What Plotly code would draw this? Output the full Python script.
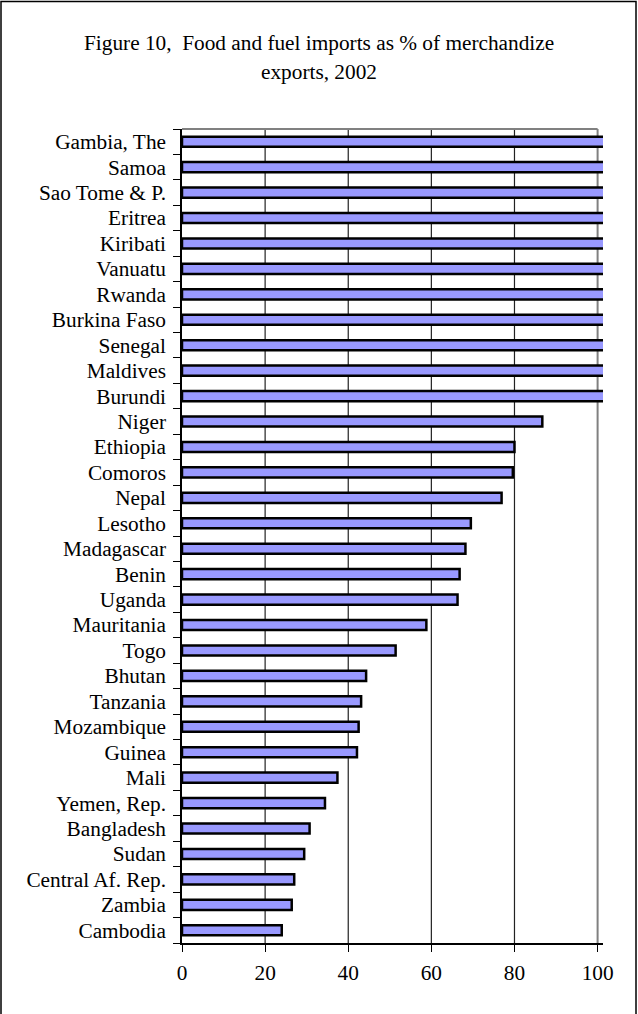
import plotly.graph_objects as go

title_lines = ["Figure 10,  Food and fuel imports as % of merchandize", "exports, 2002"]

countries = [
    "Gambia, The", "Samoa", "Sao Tome & P.", "Eritrea", "Kiribati", "Vanuatu",
    "Rwanda", "Burkina Faso", "Senegal", "Maldives", "Burundi", "Niger",
    "Ethiopia", "Comoros", "Nepal", "Lesotho", "Madagascar", "Benin", "Uganda",
    "Mauritania", "Togo", "Bhutan", "Tanzania", "Mozambique", "Guinea", "Mali",
    "Yemen, Rep.", "Bangladesh", "Sudan", "Central Af. Rep.", "Zambia", "Cambodia",
]
values = [
    110, 110, 110, 110, 110, 110,
    110, 110, 110, 110, 110, 86.7,
    80.0, 79.6, 76.9, 69.5, 68.2, 66.8, 66.3,
    58.8, 51.4, 44.3, 43.1, 42.5, 42.1, 37.4,
    34.4, 30.7, 29.4, 27.0, 26.4, 24.0,
]
x_ticks = [0, 20, 40, 60, 80, 100]

W, H = 638, 1014
L, R, T, B = 182, 603, 129, 943


def px_x(p):
    return (p - L) / (R - L)


def px_y(p):
    return (B - p) / (B - T)


fig = go.Figure(
    go.Bar(
        x=values,
        y=countries,
        orientation="h",
        marker=dict(color="#9999FF", line=dict(color="black", width=2.5)),
        hoverinfo="x+y",
    )
)

FONT = "Liberation Serif, Times New Roman, serif"
FS = 21.3

fig.update_layout(
    width=W,
    height=H,
    margin=dict(l=L, r=W - R, t=T, b=H - B, pad=0),
    paper_bgcolor="white",
    plot_bgcolor="white",
    font=dict(family=FONT, size=FS, color="black"),
    bargap=0.6,
    showlegend=False,
)

for line_text, ypix in zip(title_lines, [43, 72]):
    fig.add_annotation(
        text=line_text,
        xref="paper", yref="paper",
        x=px_x(319), y=px_y(ypix),
        xanchor="center", yanchor="middle",
        showarrow=False,
        font=dict(family=FONT, size=FS, color="black"),
    )

fig.update_xaxes(
    range=[0, 101.3],
    tickvals=x_ticks,
    ticktext=[str(v) for v in x_ticks],
    showgrid=False,
    zeroline=False,
    showline=True,
    linecolor="black",
    linewidth=1.5,
    ticks="outside",
    ticklen=7,
    tickwidth=1.2,
    tickcolor="black",
    tickfont=dict(family=FONT, size=FS, color="black"),
    ticklabelstandoff=3,
)

fig.update_yaxes(
    categoryorder="array",
    categoryarray=countries[::-1],
    tickmode="linear",
    tick0=0,
    dtick=1,
    showgrid=False,
    zeroline=False,
    showline=True,
    linecolor="black",
    linewidth=1.5,
    ticks="outside",
    tickson="boundaries",
    ticklen=7,
    tickwidth=1.2,
    tickcolor="black",
    tickfont=dict(family=FONT, size=FS, color="black"),
    ticklabelstandoff=10,
)

shapes = []
for v in x_ticks[1:-1]:
    shapes.append(dict(type="line", xref="x", yref="paper", x0=v, x1=v, y0=0, y1=1,
                       line=dict(color="#222222", width=1.2), layer="below"))
shapes.append(dict(type="line", xref="x", yref="paper", x0=100, x1=100, y0=0, y1=1,
                   line=dict(color="#808080", width=2), layer="below"))
shapes.append(dict(type="line", xref="x", yref="paper", x0=0, x1=100, y0=1, y1=1,
                   line=dict(color="#808080", width=2), layer="below"))
shapes.append(dict(type="rect", xref="paper", yref="paper",
                   x0=px_x(1), x1=px_x(636), y0=px_y(1020), y1=px_y(1.5),
                   line=dict(color="black", width=1.5), fillcolor="rgba(0,0,0,0)",
                   layer="above"))
fig.update_layout(shapes=shapes)

fig.write_html(
    "out.html",
    config={"displayModeBar": False},
    post_script="document.body.style.margin='0';",
)
